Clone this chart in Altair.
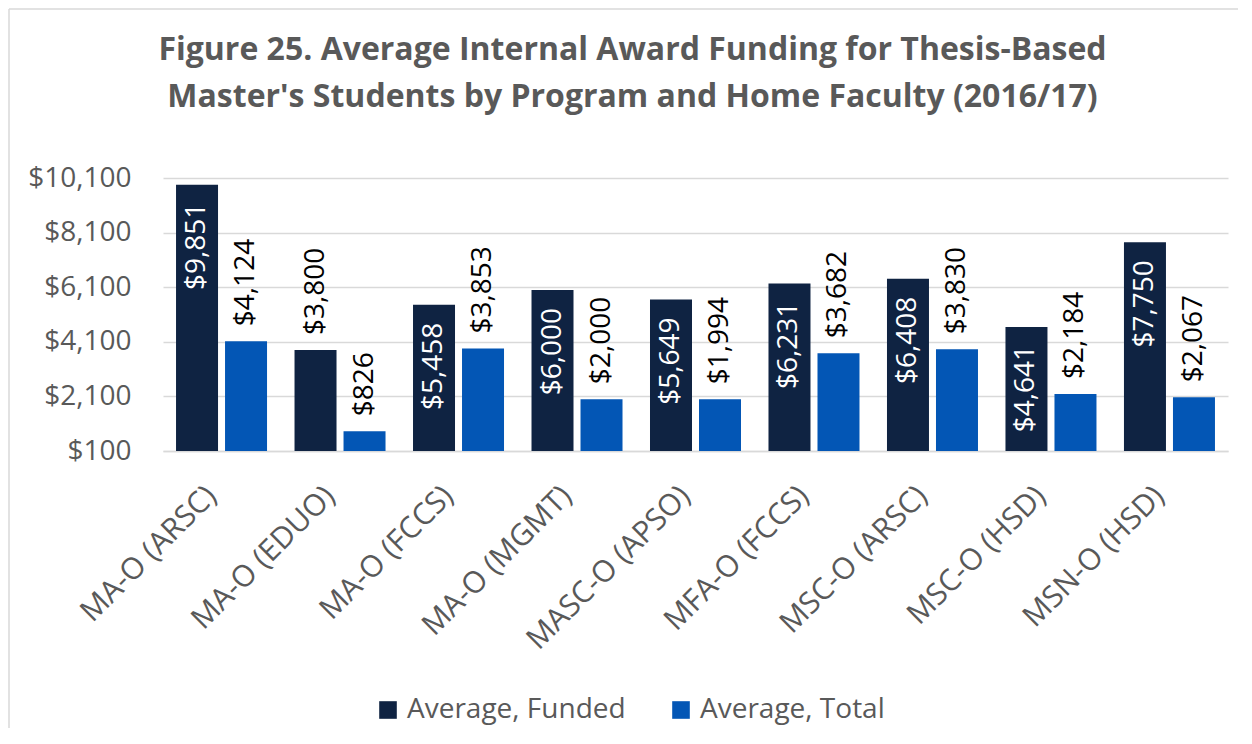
import altair as alt
import pandas as pd

programs = ["MA-O (ARSC)", "MA-O (EDUO)", "MA-O (FCCS)", "MA-O (MGMT)", "MASC-O (APSO)",
            "MFA-O (FCCS)", "MSC-O (ARSC)", "MSC-O (HSD)", "MSN-O (HSD)"]
avg_funded = [9851, 3800, 5458, 6000, 5649, 6231, 6408, 4641, 7750]
avg_total = [4124, 826, 3853, 2000, 1994, 3682, 3830, 2184, 2067]
series_names = ["Average, Funded", "Average, Total"]
y_ticks = [100, 2100, 4100, 6100, 8100, 10100]
title_lines = ["Figure 25. Average Internal Award Funding for Thesis-Based",
               "Master's Students by Program and Home Faculty (2016/17)"]

rows = []
for p, f, t in zip(programs, avg_funded, avg_total):
    rows.append({"program": p, "series": series_names[0], "value": f})
    rows.append({"program": p, "series": series_names[1], "value": t})
df = pd.DataFrame(rows)

FONT = "Open Sans"
GRAY = "#595959"
GRID = "#D9D9D9"
colors = ["#0F2342", "#0356B5"]

W, H = 1065, 273
PAD = {"left": 155, "top": 170, "right": 10, "bottom": 277}

x = alt.X("program:N", sort=programs, title=None,
          scale=alt.Scale(paddingInner=0.232, paddingOuter=0.11),
          axis=alt.Axis(labelAngle=-45, labelAlign="right", labelBaseline="middle",
                        labelPadding=40, labelOffset=-10, labelFont=FONT, labelFontSize=30,
                        labelColor=GRAY, ticks=False, tickSize=0, domainColor=GRID,
                        domainWidth=1.5, grid=False, labelLimit=400))
xo = alt.XOffset("series:N", sort=series_names,
                 scale=alt.Scale(paddingInner=0.143, paddingOuter=0))
y = alt.Y("value:Q", title=None,
          scale=alt.Scale(domain=[100, 10100], zero=False, nice=False),
          axis=alt.Axis(values=y_ticks, format="$,.0f", labelFont=FONT, labelFontSize=28,
                        labelColor=GRAY, ticks=False, tickSize=0, labelPadding=32,
                        domain=False, gridColor=GRID, gridWidth=1.5))
color = alt.Color("series:N", sort=series_names,
                  scale=alt.Scale(domain=series_names, range=colors),
                  legend=alt.Legend(title=None, orient="none", legendX=211, legendY=518,
                                    direction="horizontal", symbolType="square",
                                    symbolSize=310, symbolStrokeWidth=0, labelFont=FONT,
                                    labelFontSize=28, labelColor=GRAY, labelOffset=5,
                                    labelLimit=400, columnPadding=41, padding=0))

base = alt.Chart(df)
bars = base.mark_bar().encode(x=x, xOffset=xo, y=y, y2=alt.datum(100), color=color)

txt = alt.Text("value:Q", format="$,.0f")
labels_in = base.mark_text(angle=270, align="right", baseline="middle", dx=-18,
                           font=FONT, fontSize=28, color="white").encode(
    x=x, xOffset=xo, y=y, text=txt
).transform_filter("datum.series == 'Average, Funded' && datum.value > 4000")
labels_out = base.mark_text(angle=270, align="left", baseline="middle", dx=15,
                            font=FONT, fontSize=28, color="black").encode(
    x=x, xOffset=xo, y=y, text=txt
).transform_filter("!(datum.series == 'Average, Funded' && datum.value > 4000)")

frame_df = pd.DataFrame({"k": [0]})
border_top = alt.Chart(frame_df).mark_rule(color=GRID, strokeWidth=1.5).encode(
    x=alt.value(-154), x2=alt.value(W + PAD["right"]), y=alt.value(-169))
border_left = alt.Chart(frame_df).mark_rule(color=GRID, strokeWidth=1.5).encode(
    x=alt.value(-154), y=alt.value(-169), y2=alt.value(H + PAD["bottom"]))

chart = alt.layer(bars, labels_in, labels_out, border_top, border_left).properties(
    width=W, height=H,
    autosize=alt.AutoSizeParams(type="none"),
    padding=PAD,
    background="white",
    title=alt.TitleParams(text=title_lines, font=FONT, fontSize=32, fontWeight="bold",
                          color=GRAY, anchor="middle", frame="group", dx=-63,
                          offset=-138, baseline="bottom", lineHeight=47),
).configure_view(stroke=None)

chart.save("out.html", embed_options={"renderer": "svg", "actions": False})
